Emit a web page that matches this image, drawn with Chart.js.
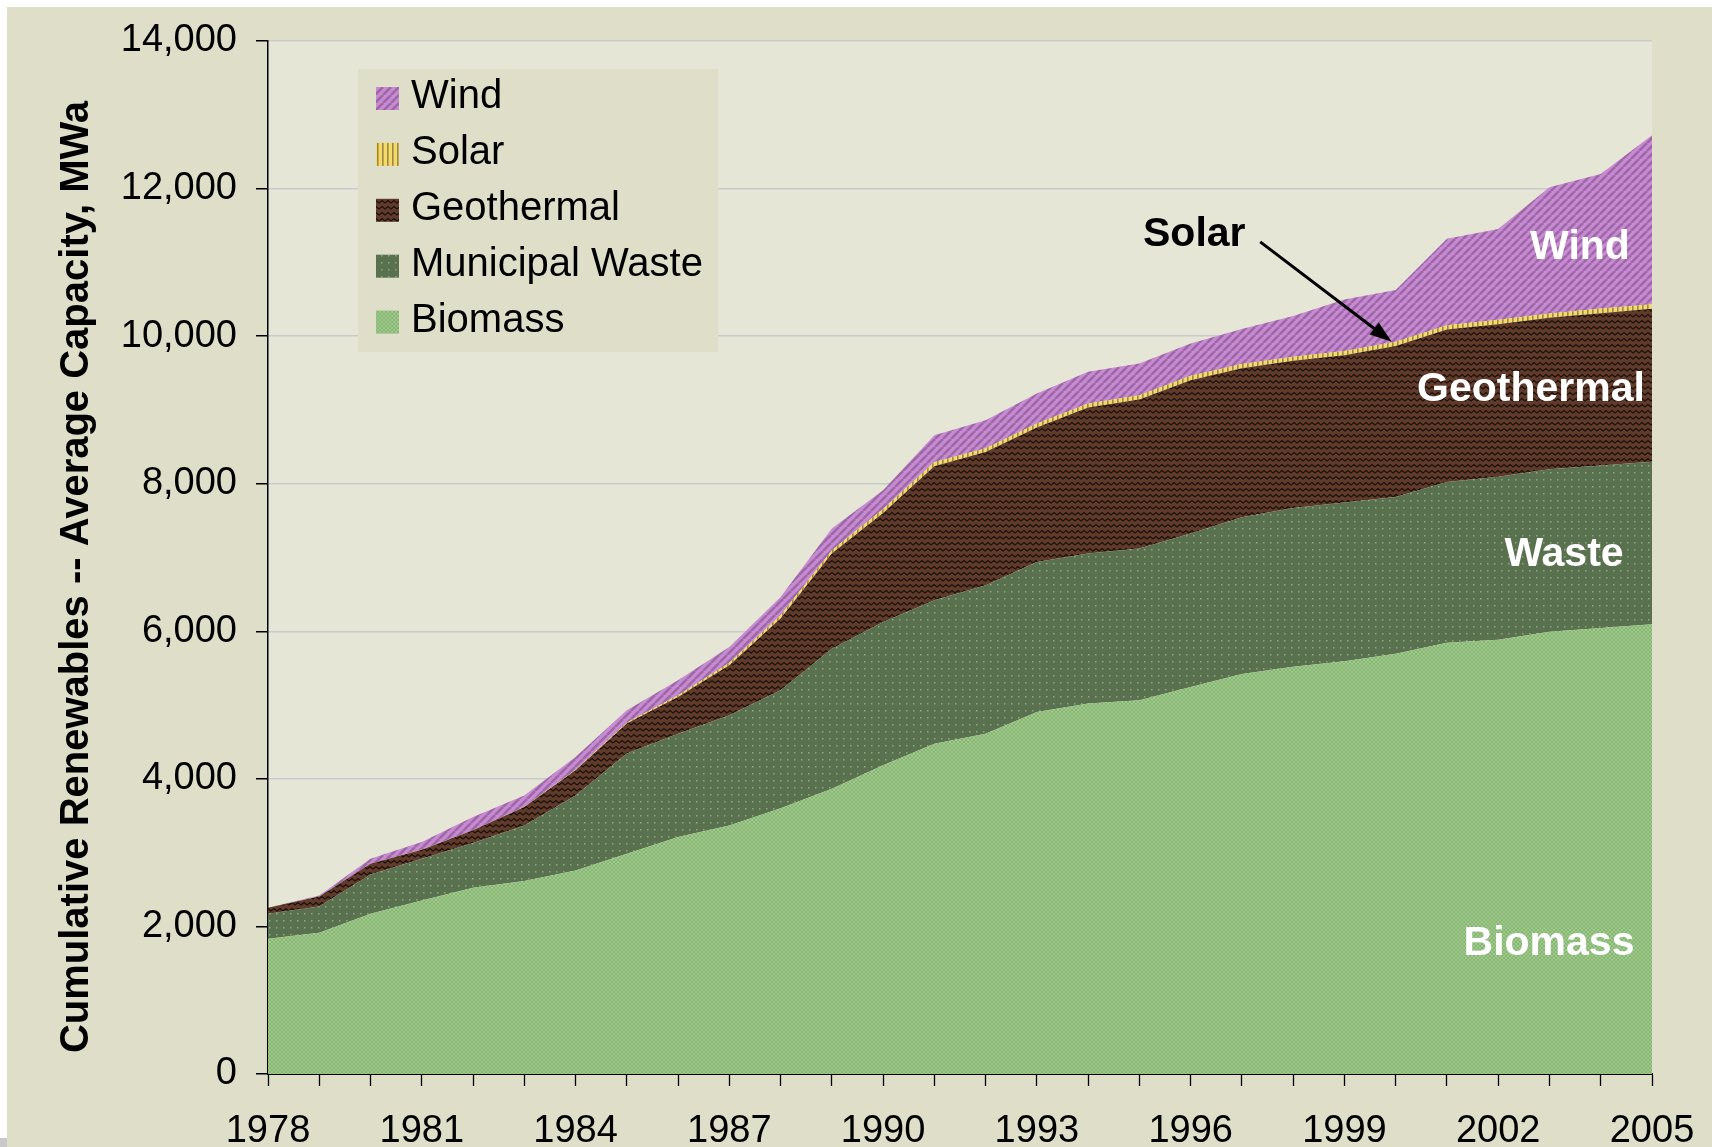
<!DOCTYPE html>
<html><head><meta charset="utf-8">
<script src="https://cdn.jsdelivr.net/npm/chart.js@4.4.1/dist/chart.umd.min.js"></script>
<style>
html,body{margin:0;padding:0;background:#fff;width:1712px;height:1147px;overflow:hidden}
#wrap{position:absolute;left:7px;top:7px;width:1705px;height:1140px;background:#DEDEC9}
#corner{position:absolute;left:0;top:1138px;width:7px;height:9px;background:#C9C9C9}
canvas{display:block}
</style></head><body>
<div id="wrap"><canvas id="c" width="1705" height="1140"></canvas></div>
<div id="corner"></div>
<script>
// ---- data (MWa, individual layer values, stacked in chart) ----
const years = ['1978','1979','1980','1981','1982','1983','1984','1985','1986','1987','1988','1989','1990','1991','1992','1993','1994','1995','1996','1997','1998','1999','2000','2001','2002','2003','2004','2005'];
const biomass = [1833,1914,2172,2353,2525,2614,2759,2986,3211,3369,3600,3867,4183,4477,4613,4906,5020,5064,5245,5420,5520,5595,5695,5845,5885,5995,6045,6095];
const municipalWaste = [339,357,533,565,605,755,1017,1356,1402,1492,1600,1898,1943,1943,2011,2034,2033,2057,2080,2126,2152,2152,2126,2177,2211,2201,2202,2202];
const geothermal = [82,136,145,122,172,249,339,407,496,678,972,1288,1478,1817,1807,1822,1980,2021,2078,2019,1993,1993,2044,2068,2064,2054,2063,2073];
const solar = [0,0,0,2,3,5,8,15,25,35,45,45,55,58,50,55,55,58,60,58,57,58,58,58,62,58,63,63];
const wind = [0,13,68,101,177,153,173,165,202,213,248,294,253,363,380,406,428,430,438,475,551,700,701,1171,1230,1711,1826,2291];
const yTicks = [0,2000,4000,6000,8000,10000,12000,14000];
const legendOrder = ['Wind','Solar','Geothermal','Municipal Waste','Biomass'];
const areaLabels = [
  {text:'Wind', x:1573, y:252, align:'center'},
  {text:'Geothermal', x:1524, y:394, align:'center'},
  {text:'Waste', x:1557, y:559, align:'center'},
  {text:'Biomass', x:1542, y:948, align:'center'}
];
const solarIndex = years.indexOf('2000');

// ---- patterns ----
function makePattern(w, h, draw){
  const c = document.createElement('canvas'); c.width = w; c.height = h;
  const g = c.getContext('2d'); draw(g, w, h);
  return document.getElementById('c').getContext('2d').createPattern(c, 'repeat');
}
const patBiomass = makePattern(4,4,(g)=>{
  g.fillStyle='#88B576'; g.fillRect(0,0,4,4);
  g.fillStyle='#9ECA8A'; g.fillRect(0,0,2,2); g.fillRect(2,2,2,2);
});
const patWaste = makePattern(7,7,(g)=>{
  g.fillStyle='#5A7150'; g.fillRect(0,0,7,7);
  g.fillStyle='#89AB7B'; g.fillRect(3,3,1.5,1.5);
});
const patGeo = makePattern(6,6,(g)=>{
  g.fillStyle='#603B2C'; g.fillRect(0,0,6,6);
  g.strokeStyle='#1A0F0A'; g.lineWidth=1.1;
  g.beginPath(); g.moveTo(-1.5,2.5); g.lineTo(0,4); g.lineTo(3,1.5); g.lineTo(6,4); g.lineTo(7.5,2.5); g.stroke();
});
const patSolar = makePattern(5,5,(g)=>{
  g.fillStyle='#F4DA68'; g.fillRect(0,0,5,5);
  g.fillStyle='#9E8845'; g.fillRect(0,0,1.6,5);
});
const patWind = makePattern(8,8,(g)=>{
  g.fillStyle='#C88AD2'; g.fillRect(0,0,8,8);
  g.strokeStyle='#9C68A5'; g.lineWidth=2.6;
  for (const o of [-8,0,8]) { g.beginPath(); g.moveTo(o,8); g.lineTo(o+8,0); g.stroke(); }
});

const base = {borderWidth:0, borderColor:'rgba(0,0,0,0)', pointRadius:0, pointHoverRadius:0, tension:0};
const datasets = [
  Object.assign({label:'Biomass', data:biomass, backgroundColor:patBiomass, fill:'origin'}, base),
  Object.assign({label:'Municipal Waste', data:municipalWaste, backgroundColor:patWaste, fill:'-1'}, base),
  Object.assign({label:'Geothermal', data:geothermal, backgroundColor:patGeo, fill:'-1'}, base),
  Object.assign({label:'Solar', data:solar, backgroundColor:patSolar, fill:'-1'}, base),
  Object.assign({label:'Wind', data:wind, backgroundColor:patWind, fill:'-1'}, base)
];

const plotBg = {
  id:'plotBg',
  beforeDraw(chart){
    const {ctx, chartArea:a} = chart;
    ctx.save(); ctx.fillStyle='#E5E6D6'; ctx.fillRect(a.left, a.top, a.right-a.left, a.bottom-a.top); ctx.restore();
  }
};

const extras = {
  id:'extras',
  afterDatasetsDraw(chart){
    const {ctx, scales:{x, y}} = chart;
    ctx.save();
    // legend
    ctx.fillStyle='#DEDEC9'; ctx.fillRect(351,62,360,283);
    ctx.font='40px "Liberation Sans", Arial, sans-serif';
    ctx.textAlign='left'; ctx.textBaseline='alphabetic';
    legendOrder.forEach((name,i)=>{
      const ds = chart.data.datasets.find(d=>d.label===name);
      const by = 101 + i*55.9;
      ctx.fillStyle = ds.backgroundColor; ctx.fillRect(369, by-21, 23, 23);
      ctx.fillStyle='#000'; ctx.fillText(name, 404, by);
    });
    // in-area labels
    ctx.font='bold 41px "Liberation Sans", Arial, sans-serif';
    ctx.fillStyle='#fff';
    areaLabels.forEach(l=>{ ctx.textAlign=l.align; ctx.fillText(l.text, l.x, l.y); });
    // solar callout
    const top = biomass[solarIndex]+municipalWaste[solarIndex]+geothermal[solarIndex]+solar[solarIndex];
    const tx = x.getPixelForValue(solarIndex) - 4, ty = y.getPixelForValue(top);
    const sx = tx - 131.5, sy = ty - 100;
    ctx.fillStyle='#000'; ctx.textAlign='left';
    ctx.fillText('Solar', 1136, 239);
    const ang = Math.atan2(ty-sy, tx-sx);
    const hl = 22, hw = 7.5;
    const bx = tx - hl*Math.cos(ang), byy = ty - hl*Math.sin(ang);
    ctx.strokeStyle='#000'; ctx.lineWidth=3;
    ctx.beginPath(); ctx.moveTo(sx,sy); ctx.lineTo(bx,byy); ctx.stroke();
    ctx.beginPath(); ctx.moveTo(tx,ty);
    ctx.lineTo(bx + hw*Math.sin(ang), byy - hw*Math.cos(ang));
    ctx.lineTo(bx - hw*Math.sin(ang), byy + hw*Math.cos(ang));
    ctx.closePath(); ctx.fill();
    // y axis title
    ctx.translate(81, 570); ctx.rotate(-Math.PI/2);
    ctx.font='bold 40px "Liberation Sans", Arial, sans-serif';
    ctx.textAlign='center'; ctx.textBaseline='alphabetic';
    ctx.fillText('Cumulative Renewables -- Average Capacity, MWa', 0, 0);
    ctx.restore();
  }
};

new Chart(document.getElementById('c'), {
  type:'line',
  data:{labels:years, datasets},
  options:{
    responsive:false, animation:false,
    layout:{padding:{top:34, right:60, left:0, bottom:0}},
    plugins:{legend:{display:false}, tooltip:{enabled:false}},
    elements:{line:{borderWidth:0}},
    scales:{
      x:{
        type:'category', offset:false,
        grid:{drawOnChartArea:false, drawTicks:true, tickLength:12, tickColor:'#000', tickWidth:1.3},
        border:{color:'#000', width:2},
        ticks:{autoSkip:false, maxRotation:0, padding:23, color:'#000',
          font:{family:'"Liberation Sans", Arial, sans-serif', size:38},
          callback:(v,i)=> (i%3===0 ? years[i] : '')},
        afterFit(s){ s.height = 73; s.paddingLeft = 0; s.paddingRight = 0; }
      },
      y:{
        stacked:true, min:0, max:14000,
        afterBuildTicks(s){ s.ticks = yTicks.map(v=>({value:v})); },
        grid:{color:'#C9C9CC', lineWidth:1.5, drawTicks:true, tickLength:12, tickColor:'#000'},
        border:{color:'#000', width:1.5},
        ticks:{padding:19, color:'#000',
          font:{family:'"Liberation Sans", Arial, sans-serif', size:38},
          callback:(v)=> Number(v).toLocaleString('en-US')},
        afterFit(s){ s.width = 261; s.paddingTop = 0; s.paddingBottom = 0; }
      }
    }
  },
  plugins:[plotBg, extras]
});
</script>
</body></html>
